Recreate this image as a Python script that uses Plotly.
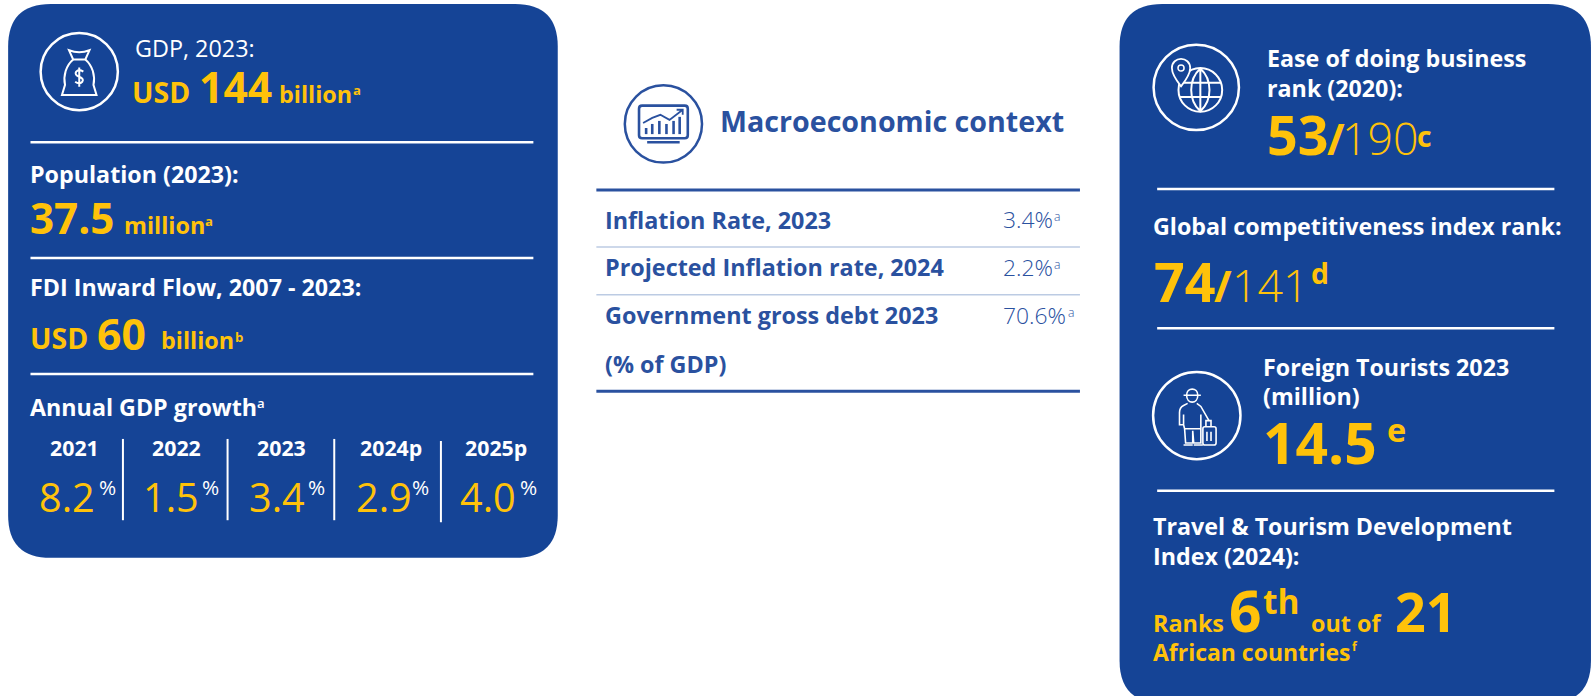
import re
import plotly.graph_objects as go

# ---------- data ----------
GDP_LABEL = "GDP, 2023:"
GDP_VALUE = "144"
POP_LABEL = "Population (2023):"
POP_VALUE = "37.5"
FDI_LABEL = "FDI Inward Flow, 2007 - 2023:"
FDI_VALUE = "60"
GROWTH_LABEL = "Annual GDP growth"
GROWTH_YEARS = ["2021", "2022", "2023", "2024p", "2025p"]
GROWTH_VALUES = ["8.2", "1.5", "3.4", "2.9", "4.0"]
TITLE = "Macroeconomic context"
TABLE_LABELS = ["Inflation Rate, 2023", "Projected Inflation rate, 2024", "Government gross debt 2023"]
TABLE_VALUES = ["3.4%", "2.2%", "70.6%"]
TABLE_NOTE = "(% of GDP)"
EASE_LABEL = ["Ease of doing business", "rank (2020):"]
EASE_RANK = ["53", "/", "190", "c"]
GCI_LABEL = "Global competitiveness index rank:"
GCI_RANK = ["74", "/", "141", "d"]
TOUR_LABEL = ["Foreign Tourists 2023", "(million)"]
TOUR_VALUE = ["14.5", "e"]
TTDI_LABEL = ["Travel & Tourism Development", "Index (2024):"]
TTDI_TEXT = ["Ranks", "6", "th", "out of", "21", "African countries", "f"]

BLUE = "#154496"
INK = "#2A519F"
YELLOW = "#FFC20A"
WHITE = "#FFFFFF"
PALE = "#BCCBE3"
FONT = "Open Sans, Noto Sans, sans-serif"
W, H = 1568, 685
K = 1593 / 1568
LABEL = 22.9

fig = go.Figure()
ann, shp = [], []


def text(x, bl, s, size, color=WHITE, weight=400, anchor="left"):
    ann.append(dict(x=x, y=bl - 0.388 * size, text=s, xref="x", yref="y", showarrow=False,
                    xanchor=anchor, yanchor="middle", borderpad=0, borderwidth=0,
                    font=dict(family=FONT, size=size * K, color=color, weight=weight)))


def line(x0, y0, x1, y1, color=WHITE, w=2.5):
    shp.append(dict(type="line", x0=x0, y0=y0, x1=x1, y1=y1, xref="x", yref="y",
                    line=dict(color=color, width=w), layer="above"))


def rounded(x0, y0, x1, y1, r, color):
    p = (f"M{x0+r},{y0} L{x1-r},{y0} Q{x1},{y0} {x1},{y0+r} L{x1},{y1-r} Q{x1},{y1} {x1-r},{y1} "
         f"L{x0+r},{y1} Q{x0},{y1} {x0},{y1-r} L{x0},{y0+r} Q{x0},{y0} {x0+r},{y0} Z")
    shp.append(dict(type="path", path=p, xref="x", yref="y", fillcolor=color, line=dict(width=0), layer="below"))


def circle(cx, cy, r, color, w=2.5, fill=None):
    shp.append(dict(type="circle", x0=cx - r, x1=cx + r, y0=cy - r, y1=cy + r, xref="x", yref="y",
                    line=dict(color=color, width=w), fillcolor=fill or "rgba(0,0,0,0)", layer="above"))


def glyph(path, cx, cy, color, w=1.6, s=1.0, fill=None):
    nums = iter(range(10 ** 6))

    def rep(m):
        i = next(nums)
        v = float(m.group(0))
        return f"{(cx if i % 2 == 0 else cy) + v * s:.2f}"

    shp.append(dict(type="path", path=re.sub(r"-?\d+\.?\d*", rep, path), xref="x", yref="y",
                    line=dict(color=color, width=w), fillcolor=fill or "rgba(0,0,0,0)", layer="above"))


# ---------- panels ----------
rounded(8, 4, 549, 549, 42, BLUE)
rounded(1102, 4, 1566, 692, 42, BLUE)

# ---------- left panel ----------
circle(78, 70.5, 38, WHITE)
glyph("M-10,-21 Q-5,-19 0,-19 Q5,-19 10,-21 L6,-12 L-6,-12 Z", 78, 70.5, WHITE, 2)
glyph("M-6,-12 C-13,-6 -16,4 -14,13 L-17,23 L17,23 L14,13 C16,4 13,-6 6,-12", 78, 70.5, WHITE, 2)
glyph("M4,0 Q0,-3 -3,0 Q-5,3 0,5 Q5,7 3,10 Q0,13 -4,10 M0,-4 L0,15", 78, 70.5, WHITE, 2)

text(133, 56, GDP_LABEL, 23, WHITE, 500)
text(130, 101, "USD", 28, YELLOW, 700)
text(196, 101, GDP_VALUE, 42, YELLOW, 700)
text(275, 101, "billion", 23, YELLOW, 700)
text(347, 94, "a", 13, YELLOW, 700)
line(30, 140, 525, 140)

text(30, 180, POP_LABEL, LABEL, WHITE, 700)
text(30, 230, POP_VALUE, 41.5, YELLOW, 700)
text(122, 230, "million", 23, YELLOW, 700)
text(202, 223, "a", 13, YELLOW, 700)
line(30, 254, 525, 254)

text(30, 291, FDI_LABEL, LABEL, WHITE, 700)
text(30, 344, "USD", 28, YELLOW, 700)
text(95, 344, FDI_VALUE, 42, YELLOW, 700)
text(158, 344, "billion", 23, YELLOW, 700)
text(231, 337, "b", 13, YELLOW, 700)
line(30, 368, 525, 368)

text(30, 409, GROWTH_LABEL, LABEL, WHITE, 700)
text(253, 402, "a", 13, WHITE, 600)

year_centers = [73, 174, 277, 385, 488]
value_lefts = [38, 141, 245, 350, 453]
pct_lefts = [97, 199, 303, 406, 512]
for yr, c in zip(GROWTH_YEARS, year_centers):
    text(c, 449, yr, 21, WHITE, 700, "center")
for v, x in zip(GROWTH_VALUES, value_lefts):
    text(x, 504, v, 39, YELLOW, 500)
for x in pct_lefts:
    text(x, 487, "%", 20.5, WHITE, 500)
for x, y0, y1 in [(121, 432, 512), (224, 432, 512), (329, 432, 512), (434, 434, 514)]:
    line(x, y0, x, y1, WHITE, 2)

# ---------- centre ----------
circle(653, 122, 38, INK)
glyph("M-21,-18 L21,-18 Q24,-18 24,-15 L24,11 Q24,14 21,14 L-21,14 Q-24,14 -24,11 L-24,-15 Q-24,-18 -21,-18 Z", 653, 122, INK, 2.6)
glyph("M-16,18 L16,18", 653, 122, INK, 2.6)
glyph("M-20,-1 L-11,-6 L-3,-9 L6,-4 L19,-14 M13,-14 L19,-14 L19,-9", 653, 122, INK, 1.8)
for dx, top in [(-17, 4), (-11, 0), (-4, -3), (3, 0), (10, -3), (16, -7)]:
    glyph(f"M{dx},{top} L{dx},10", 653, 122, INK, 2.6)

text(709, 130, TITLE, 28.2, INK, 700)
line(587, 187, 1063, 187, INK, 3)
line(587, 243, 1063, 243, PALE, 1.5)
line(587, 290, 1063, 290, PALE, 1.5)
line(587, 385, 1063, 385, INK, 3)
for lab, v, bl, xs in zip(TABLE_LABELS, TABLE_VALUES, [225, 272, 319], [1037, 1037, 1051]):
    text(595.5, bl, lab, 23, INK, 700)
    text(987, bl, v, 22.5, INK, 300)
    text(xs, bl - 7, "a", 12, INK, 300)
text(595.5, 367, TABLE_NOTE, 23, INK, 700)

# ---------- right panel ----------
circle(1177.5, 86, 42, WHITE)
circle(1181.5, 88.5, 21.5, WHITE, 2)
glyph("M0,-21 C-12,-10 -12,10 0,21 C12,10 12,-10 0,-21 M-20,-7 L20,-7 M-20,7 L20,7 M0,-21 L0,21", 1181.5, 88.5, WHITE, 2)
glyph("M-15,-1 C-19,-6 -24,-13 -24,-19 C-24,-31 -6,-31 -6,-19 C-6,-13 -11,-6 -15,-1 Z", 1177.5, 86, WHITE, 1.8, fill=BLUE)
circle(1162.5, 67, 3, WHITE, 1.5)

text(1247, 66, EASE_LABEL[0], LABEL, WHITE, 700)
text(1247, 95, EASE_LABEL[1], LABEL, WHITE, 700)
text(1247, 152, EASE_RANK[0], 53, YELLOW, 700)
text(1306, 152, EASE_RANK[1], 42, YELLOW, 700)
text(1321, 152, EASE_RANK[2], 44, YELLOW, 300)
text(1395, 145, EASE_RANK[3], 28, YELLOW, 700)
line(1139, 186, 1530, 186)

text(1135, 231, GCI_LABEL, LABEL, WHITE, 700)
text(1136, 297, GCI_RANK[0], 53, YELLOW, 700)
text(1195, 297, GCI_RANK[1], 42, YELLOW, 700)
text(1213, 297, GCI_RANK[2], 44, YELLOW, 300)
text(1290, 280, GCI_RANK[3], 28, YELLOW, 700)
line(1139, 323, 1530, 323)

circle(1178, 409, 43, WHITE)
glyph("M-10,-20 C-10,-28 1,-28 1,-20 M-13,-20 L4,-20 M-10,-20 C-10,-11 1,-11 1,-20", 1178, 409, WHITE, 1.6)
glyph("M-9,-12 L-13,-10 Q-17,-8 -17,-3 L-17,9 L-13,9 L-13,-1 M-13,9 L-12,13 L4,13 L4,-1 M0,-12 L4,-9 L12,5 "
      "M-12,13 L-11,27 L-4,27 L-4,15 L-3,27 L4,27 L4,13 M-13,29 L-4,29 M-3,29 L6,29", 1178, 409, WHITE, 1.6)
glyph("M6,13 Q6,11 8,11 L17,11 Q19,11 19,13 L19,27 Q19,29 17,29 L8,29 Q6,29 6,27 Z M10,16 L10,25 M14,16 L14,25 "
      "M9,11 L9,5 L14,5 L14,11", 1178, 409, WHITE, 1.6)

text(1243, 370, TOUR_LABEL[0], LABEL, WHITE, 700)
text(1243, 399, TOUR_LABEL[1], LABEL, WHITE, 700)
text(1243, 457, TOUR_VALUE[0], 56, YELLOW, 700)
text(1365, 435, TOUR_VALUE[1], 32, YELLOW, 700)
line(1139, 483, 1530, 483)

text(1135, 527, TTDI_LABEL[0], LABEL, WHITE, 700)
text(1135, 556, TTDI_LABEL[1], LABEL, WHITE, 700)
text(1135, 622, TTDI_TEXT[0], 23, YELLOW, 700)
text(1210, 622, TTDI_TEXT[1], 56, YELLOW, 700)
text(1243, 604, TTDI_TEXT[2], 33, YELLOW, 700)
text(1290, 622, TTDI_TEXT[3], 23, YELLOW, 700)
text(1373, 622, TTDI_TEXT[4], 53, YELLOW, 700)
text(1135, 650, TTDI_TEXT[5], 22.6, YELLOW, 700)
text(1331, 641, TTDI_TEXT[6], 12, YELLOW, 700)

fig.update_layout(
    width=1593, height=696, margin=dict(l=0, r=0, t=0, b=0),
    paper_bgcolor="white", plot_bgcolor="white", showlegend=False,
    xaxis=dict(range=[0, W], visible=False, fixedrange=True),
    yaxis=dict(range=[H, 0], visible=False, fixedrange=True),
    annotations=ann, shapes=shp,
)
fig.write_html("out.html", config={"displayModeBar": False},
               post_script="document.body.style.margin='0';document.documentElement.style.overflow='hidden';")
